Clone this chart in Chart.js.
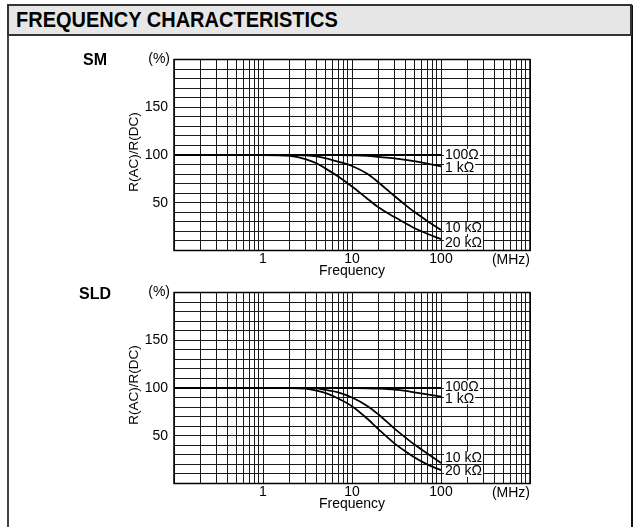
<!DOCTYPE html>
<html>
<head>
<meta charset="utf-8">
<script src="https://cdn.jsdelivr.net/npm/chart.js@4.4.1/dist/chart.umd.min.js"></script>
<style>
  html, body { margin: 0; padding: 0; background: #fff; width: 634px; height: 527px; overflow: hidden; }
  body { position: relative; font-family: "Liberation Sans", Arial, sans-serif; }
  #frame { position: absolute; left: 7px; top: 5px; width: 622px; height: 530px; border-left: 2px solid #444; border-right: 2px solid #111; }
  #head { position: absolute; left: 7px; top: 4px; width: 621px; height: 28px; background: #e6e6e6; border: 2px solid #333; }
  #head span { position: absolute; left: 7px; top: 2px; font: bold 20px "Liberation Sans", Arial, sans-serif; color: #000;
    transform: scaleY(1.12); transform-origin: 0 50%; }
  canvas { position: absolute; left: 0; }
  #smChart { top: 40px; }
  #sldChart { top: 273px; }
</style>
</head>
<body>
<div id="frame"></div>
<div id="head"><span>FREQUENCY CHARACTERISTICS</span></div>
<canvas id="smChart" width="634" height="240"></canvas>
<canvas id="sldChart" width="634" height="240"></canvas>
<script>
// frequency points (MHz)
const freqMHz = [0.1, 1, 2, 3, 4, 5, 7, 10, 15, 20, 30, 40, 50, 70, 100]
const seriesNames = ['100Ω', '1 kΩ', '10 kΩ', '20 kΩ']
const xTickLabels = [1, 10, 100]
const yTickLabels = [50, 100, 150]

// SM: R(AC)/R(DC) in %
const smR100 = [100, 100, 100, 100, 100, 100, 100, 100, 100, 100, 100, 100, 100, 100, 100]
const smR1k = [100, 100, 100, 100, 100, 100, 99.9, 99.6, 99, 98, 96.5, 95, 93.5, 91, 88]
const smR10k = [100, 100, 100, 99.6, 98.6, 96.8, 93, 88.5, 80, 71, 57, 47.5, 40.5, 31, 21.5]
const smR20k = [100, 100, 99, 95.8, 91.3, 86, 77.4, 67, 54, 45, 35, 28.5, 23.5, 17.5, 12]
const smLabelAt = [100, 86.7, 23.6, 7.9]

// SLD
const sldR100 = [100, 100, 100, 100, 100, 100, 100, 100, 100, 100, 100, 100, 100, 100, 100]
const sldR1k = [100, 100, 100, 100, 100, 100, 100, 99.9, 99.7, 99.3, 98.3, 97, 95.5, 93.3, 91]
const sldR10k = [100, 100, 100, 100, 99.6, 98, 95.5, 90, 81, 72, 57.5, 48, 41, 31.5, 21.5]
const sldR20k = [100, 100, 100, 99.3, 97.2, 94.8, 89, 81, 67.5, 56.5, 42, 33.5, 27.5, 20, 14]
const sldLabelAt = [101.4, 89.2, 27, 13.1]

const FONT = '"Liberation Sans", Arial, sans-serif'

const panelText = {
  id: 'panelText',
  afterDatasetsDraw(chart, args, opts) {
    const { ctx, chartArea: a, scales: { x, y } } = chart
    ctx.save()
    ctx.strokeStyle = '#000'
    ctx.lineWidth = 1.5
    ctx.strokeRect(a.left, a.top, a.right - a.left, a.bottom - a.top)

    ctx.fillStyle = '#000'
    ctx.textBaseline = 'middle'
    ctx.font = 'bold 16px ' + FONT
    ctx.textAlign = 'left'
    ctx.fillText(opts.name, opts.nameX, a.top + opts.nameDy)

    ctx.font = '14px ' + FONT
    ctx.textAlign = 'right'
    ctx.fillText('(%)', a.left - 4, a.top)
    ctx.fillText('(MHz)', a.right, a.bottom + 9.5)
    ctx.textAlign = 'center'
    ctx.fillText('Frequency', x.getPixelForValue(10), a.bottom + 20.5)

    ctx.save()
    ctx.translate(134, (a.top + a.bottom) / 2 - 3)
    ctx.rotate(-Math.PI / 2)
    ctx.font = '13.5px ' + FONT
    ctx.fillText('R(AC)/R(DC)', 0, 0)
    ctx.restore()

    // curve labels at 100 MHz
    ctx.font = '14px ' + FONT
    ctx.textAlign = 'left'
    const lx = x.getPixelForValue(100) + 4
    seriesNames.forEach((name, i) => {
      const ly = y.getPixelForValue(opts.labelAt[i])
      const w = ctx.measureText(name).width
      ctx.fillStyle = '#fff'
      ctx.fillRect(lx - 1, ly - 6, w + 2, 12)
      ctx.fillStyle = '#000'
      ctx.fillText(name, lx, ly + 0.5)
    })
    ctx.restore()
  }
}

function makeChart(id, name, nameDy, values, labelAt) {
  const datasets = values.map((vals, i) => ({
    label: seriesNames[i],
    data: freqMHz.map((f, j) => ({ x: f, y: vals[j] })),
    borderColor: '#000',
    borderWidth: 1.8,
    pointRadius: 0,
    cubicInterpolationMode: 'monotone',
    fill: false
  }))

  new Chart(document.getElementById(id), {
    type: 'line',
    data: { datasets },
    options: {
      responsive: false,
      animation: false,
      layout: { padding: { left: 0, top: 19.5, right: 104, bottom: 0 } },
      plugins: {
        legend: { display: false },
        tooltip: { enabled: false },
        panelText: { name, nameX: name === 'SM' ? 83 : 79, nameDy, labelAt }
      },
      scales: {
        x: {
          type: 'logarithmic',
          min: 0.1,
          max: 1000,
          afterBuildTicks: (s) => {
            const t = []
            for (let e = -1; e <= 2; e++) {
              for (let m = 1; m <= 9; m++) t.push({ value: m * Math.pow(10, e) })
            }
            t.push({ value: 1000 })
            s.ticks = t
          },
          afterFit: (s) => { s.height = 29.5 },
          grid: { color: '#1a1a1a', lineWidth: 1, drawTicks: false },
          border: { display: false },
          ticks: {
            autoSkip: false,
            maxRotation: 0,
            padding: 0.5,
            color: '#000',
            font: { family: FONT, size: 14 },
            callback: (v) => (xTickLabels.includes(v) ? String(v) : '')
          }
        },
        y: {
          type: 'linear',
          min: 0,
          max: 200,
          afterFit: (s) => { s.width = 174 },
          grid: { color: '#1a1a1a', lineWidth: 1, drawTicks: false },
          border: { display: false },
          ticks: {
            stepSize: 10,
            autoSkip: false,
            padding: 6,
            color: '#000',
            font: { family: FONT, size: 14 },
            callback: (v) => (yTickLabels.includes(v) ? String(v) : '')
          }
        }
      }
    },
    plugins: [panelText]
  })
}

document.addEventListener('DOMContentLoaded', () => {
  makeChart('smChart', 'SM', 1, [smR100, smR1k, smR10k, smR20k], smLabelAt)
  makeChart('sldChart', 'SLD', 2.5, [sldR100, sldR1k, sldR10k, sldR20k], sldLabelAt)
})
</script>
</body>
</html>
